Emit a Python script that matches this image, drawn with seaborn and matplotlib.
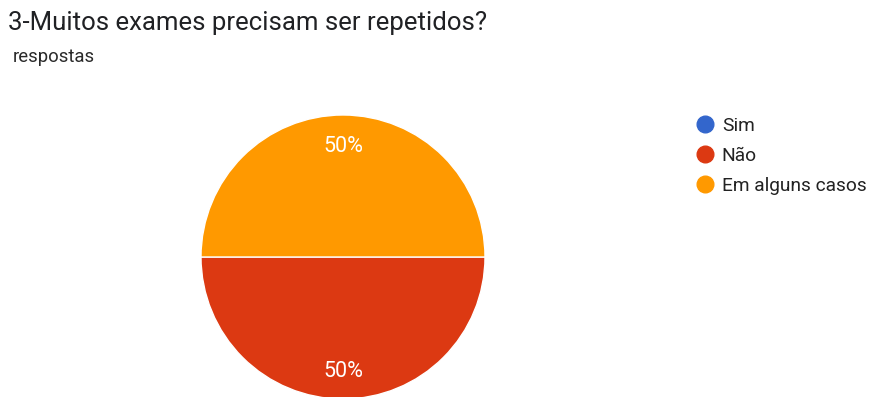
import matplotlib
matplotlib.use("Agg")
import matplotlib.pyplot as plt
from matplotlib.lines import Line2D
import seaborn as sns

# Survey answers
categories = ["Sim", "Não", "Em alguns casos"]
counts = [0, 1, 1]
colors = ["#3366CC", "#DC3912", "#FF9900"]

title = "3-Muitos exames precisam ser repetidos?"
subtitle = "respostas"

sns.set_theme(style="white")
plt.rcParams["font.family"] = ["Roboto", "DejaVu Sans"]

W, H = 869, 397
fig = plt.figure(figsize=(W / 100, H / 100), dpi=100)
fig.patch.set_facecolor("white")

# Pie axes placed by pixel geometry: center (343, 257), radius 142
cx, cy, r = 343, 257, 142
ax = fig.add_axes([(cx - r) / W, (H - cy - r) / H, 2 * r / W, 2 * r / H])

def fmt(p):
    return f"{p:.0f}%" if p > 0 else ""

wedges, texts, autotexts = ax.pie(
    counts,
    colors=colors,
    startangle=0,
    counterclock=False,
    radius=1,
    autopct=fmt,
    pctdistance=0.79,
    wedgeprops=dict(edgecolor="white", linewidth=1),
    textprops=dict(color="white", fontsize=15.5),
)
for t in autotexts:
    x, y = t.get_position()
    t.set_position((x, y - 0.015))
ax.set_xlim(-1, 1)
ax.set_ylim(-1, 1)
ax.set_aspect("equal")
ax.axis("off")

fig.text(8 / W, 1 - 23 / H, title, fontsize=18.5, color="#202124", va="center", ha="left")
fig.text(13 / W, 1 - 57 / H, subtitle, fontsize=13.3, color="#2a2a2a", va="center", ha="left")

handles = [Line2D([0], [0], marker="o", linestyle="", markersize=12,
                  markerfacecolor=c, markeredgecolor=c) for c in colors]
fig.legend(handles, categories, loc="upper left",
           bbox_to_anchor=(695 / W, 1 - 117 / H), frameon=False,
           fontsize=13.8, labelcolor="#222222", handletextpad=0.4, labelspacing=0.62,
           handlelength=1.0, borderaxespad=0, borderpad=0)

fig.savefig("out.png", dpi=100, facecolor="white")
